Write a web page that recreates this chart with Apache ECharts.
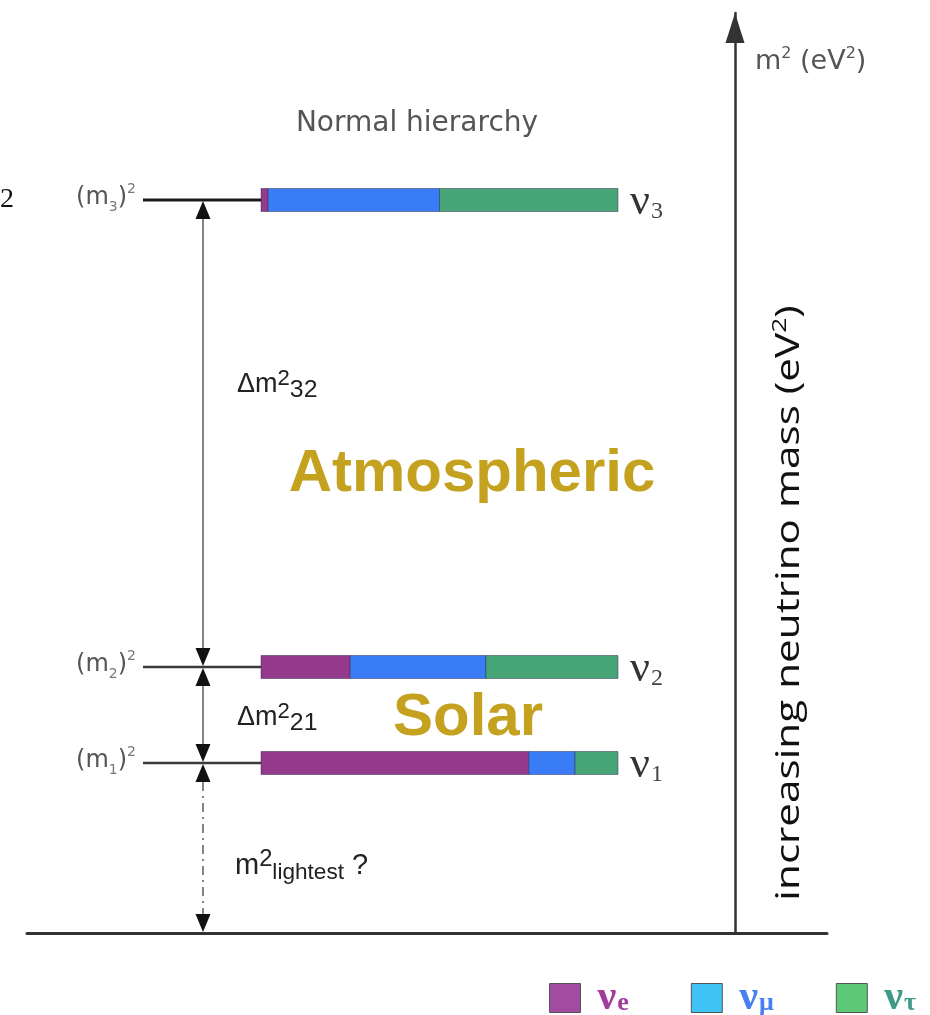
<!DOCTYPE html>
<html><head><meta charset="utf-8">
<script src="https://cdn.jsdelivr.net/npm/echarts@6/dist/echarts.min.js"></script>
<style>html,body{margin:0;padding:0;background:#fff}#c{width:930px;height:1015px}</style>
</head><body><div id="c"></div>
<script>
// ---------------- data ----------------
const states   = ['1', '2', '3'];          // mass eigenstates ν1, ν2, ν3
const massSq   = [17.0, 26.6, 73.3];       // relative (m_i)^2 levels, axis units
const flavors  = ['νe', 'νμ', 'ντ'];
const fracE    = [0.75, 0.25, 0.02];       // νe content of ν1, ν2, ν3
const fracMu   = [0.13, 0.38, 0.48];       // νμ content
const fracTau  = [0.12, 0.37, 0.50];       // ντ content

// ---------------- layout / style constants ----------------
const AX0 = 735;                // pixel column of the vertical m² axis (x value 0)
const BAR_X0 = 261 - AX0, BAR_W = 357, BAR_H = 23;
const LINE_X0 = 143 - AX0;
const ARROW_X = 203 - AX0;
const barColors = ['#943a8c', '#3a7cf6', '#48a578'];
const legendColors = ['#a34ba1', '#3fc3f6', '#5dc978'];
const legendText = ['#a03c9c', '#4a7ff2', '#3f9a88'];
const GOLD = '#c4a21f';

const fracs = [fracE, fracMu, fracTau];
function flavorData(k) {
  return states.map((s, i) => {
    let start = 0;
    for (let j = 0; j < k; j++) start += fracs[j][i];
    return [massSq[i], start, fracs[k][i]];
  });
}

const chart = echarts.init(document.getElementById('c'), null, {renderer: 'canvas'});

const flavorSeries = flavors.map((f, k) => ({
  name: f,
  type: 'custom',
  coordinateSystem: 'cartesian2d',
  itemStyle: {color: barColors[k]},
  encode: {x: 1, y: 0},
  data: flavorData(k),
  silent: true,
  z: 5,
  renderItem: function (params, api) {
    const y = api.value(0), s = api.value(1), w = api.value(2);
    const a = api.coord([BAR_X0 + s * BAR_W, y]);
    const b = api.coord([BAR_X0 + (s + w) * BAR_W, y]);
    return {
      type: 'rect',
      shape: {x: a[0], y: a[1] - BAR_H / 2, width: b[0] - a[0], height: BAR_H},
      style: {fill: barColors[k], stroke: 'rgba(40,30,70,0.45)', lineWidth: 1}
    };
  }
}));

const levelSeries = {
  name: 'levels',
  type: 'custom',
  coordinateSystem: 'cartesian2d',
  encode: {x: 1, y: 0},
  data: massSq.map((m, i) => [m, i]),
  silent: true,
  z: 3,
  renderItem: function (params, api) {
    const y = api.value(0), i = api.value(1);
    const a = api.coord([LINE_X0, y]);
    const b = api.coord([BAR_X0, y]);
    const top = i === states.length - 1;
    return {
      type: 'group',
      children: [
        {type: 'line', shape: {x1: a[0], y1: a[1], x2: b[0], y2: b[1]},
         style: {stroke: top ? '#1a1a1a' : '#3a3a3a', lineWidth: top ? 3 : 2.5}},
        {type: 'text', x: a[0] - 7, y: a[1] - 2,
         style: {text: '{n|(m}{s|' + states[i] + '}{n|)}{p|2}', align: 'right', verticalAlign: 'middle',
           rich: {
             n: {fontSize: 24, fontFamily: 'DejaVu Sans', fill: '#555', lineHeight: 32},
             s: {fontSize: 14, fontFamily: 'DejaVu Sans', fill: '#777', lineHeight: 14, verticalAlign: 'bottom'},
             p: {fontSize: 14, fontFamily: 'DejaVu Sans', fill: '#777', lineHeight: 14, verticalAlign: 'top'}
           }}},
        {type: 'text', x: api.coord([BAR_X0 + BAR_W, y])[0] + 12, y: a[1] + 2,
         style: {text: '{v|ν}{s|' + states[i] + '}', align: 'left', verticalAlign: 'middle',
           rich: {
             v: {fontSize: 44, fontFamily: 'Liberation Serif', fill: '#333', lineHeight: 44},
             s: {fontSize: 24, fontFamily: 'Liberation Serif', fill: '#444', lineHeight: 24, verticalAlign: 'bottom', padding: [0, 0, 0, 1]}
           }}}
      ]
    };
  }
};

const bounds = [0].concat(massSq);
const arrowSeries = {
  name: 'gaps',
  type: 'custom',
  coordinateSystem: 'cartesian2d',
  encode: {x: 2, y: 0},
  data: massSq.map((m, i) => [bounds[i], bounds[i + 1], i === 0 ? 1 : 0]),
  silent: true,
  z: 4,
  renderItem: function (params, api) {
    const lo = api.coord([ARROW_X, api.value(0)]);
    const hi = api.coord([ARROW_X, api.value(1)]);
    const dashed = api.value(2) === 1;
    const x = lo[0], hw = 7.5, h = 19;
    return {
      type: 'group',
      children: [
        {type: 'line', shape: {x1: x, y1: hi[1] + h, x2: x, y2: lo[1] - h},
         style: {stroke: '#666', lineWidth: 1.6, lineDash: dashed ? [9, 5, 2, 5] : null}},
        {type: 'polygon', shape: {points: [[x, hi[1] + 1], [x - hw, hi[1] + h], [x + hw, hi[1] + h]]},
         style: {fill: '#111'}},
        {type: 'polygon', shape: {points: [[x, lo[1] - 1], [x - hw, lo[1] - h], [x + hw, lo[1] - h]]},
         style: {fill: '#111'}}
      ]
    };
  }
};

const subRich = (size, color, sub) => ({
  n: {fontSize: size, fontFamily: 'Liberation Sans', fill: color, lineHeight: size + 8},
  p: {fontSize: size * 0.82, fontFamily: 'Liberation Sans', fill: color, lineHeight: size * 0.82, verticalAlign: 'top'},
  s: {fontSize: size * sub, fontFamily: 'Liberation Sans', fill: color, lineHeight: size * sub, verticalAlign: 'bottom', padding: [9, 0, 0, 0]}
});

const option = {
  animation: false,
  backgroundColor: '#ffffff',
  grid: {left: 27, right: 103, top: 13, bottom: 82, containLabel: false},
  xAxis: {
    type: 'value', min: -708, max: 92,
    axisLine: {show: true, onZero: true, lineStyle: {color: '#333', width: 3}},
    axisTick: {show: false}, axisLabel: {show: false}, splitLine: {show: false}
  },
  yAxis: {
    type: 'value', min: 0, max: 92,
    axisLine: {show: true, onZero: true, lineStyle: {color: '#333', width: 2.5},
      symbol: ['none', 'triangle'], symbolSize: [19, 30], symbolOffset: [0, -15]},
    axisTick: {show: false}, axisLabel: {show: false}, splitLine: {show: false}
  },
  legend: {
    left: 549, top: 977, padding: 0, itemWidth: 31, itemHeight: 29, itemGap: 62, icon: 'rect',
    selectedMode: false,
    data: flavors.map((f, k) => ({name: f, itemStyle: {color: legendColors[k], borderColor: '#555', borderWidth: 1}})),
    formatter: function (name) {
      const k = flavors.indexOf(name);
      return '{v' + k + '|ν}{s' + k + '|' + name.slice(1) + '}';
    },
    textStyle: {
      rich: (function () {
        const r = {};
        for (let k = 0; k < 3; k++) {
          r['v' + k] = {fontSize: 42, fontFamily: 'Liberation Serif', fontWeight: 'bold', color: legendText[k], lineHeight: 36, padding: [0, 0, 0, 12]};
          r['s' + k] = {fontSize: 26, fontFamily: 'Liberation Serif', fontWeight: 'bold', color: legendText[k], lineHeight: 26, verticalAlign: 'bottom', padding: [12, 0, 0, 1]};
        }
        return r;
      })()
    }
  },
  graphic: [
    {type: 'text', left: 0, top: 186, style: {text: '2', font: '28px "Liberation Serif"', fill: '#111'}},
    {type: 'text', x: 417, y: 124, style: {text: 'Normal hierarchy', font: '28px "DejaVu Sans"', fill: '#555', align: 'center', verticalAlign: 'middle'}},
    {type: 'text', x: 237, y: 385, style: {text: '{n|Δm}{p|2}{s|32}', rich: subRich(27, '#222', 0.92), verticalAlign: 'middle'}},
    {type: 'text', x: 237, y: 718, style: {text: '{n|Δm}{p|2}{s|21}', rich: subRich(27, '#222', 0.92), verticalAlign: 'middle'}},
    {type: 'text', x: 235, y: 866, style: {text: '{n|m}{p|2}{s|lightest}{n| ?}', rich: subRich(29, '#222', 0.78), verticalAlign: 'middle'}},
    {type: 'text', x: 472, y: 474, style: {text: 'Atmospheric', font: 'bold 60px "Liberation Sans"', fill: GOLD, align: 'center', verticalAlign: 'middle'}},
    {type: 'text', x: 468, y: 718, style: {text: 'Solar', font: 'bold 60px "Liberation Sans"', fill: GOLD, align: 'center', verticalAlign: 'middle'}},
    {type: 'text', x: 755, y: 62, style: {text: '{n|m}{p|2}{n| (eV}{p|2}{n|)}', verticalAlign: 'middle',
      rich: {n: {fontSize: 27, fontFamily: 'DejaVu Sans', fill: '#555', lineHeight: 32},
             p: {fontSize: 16, fontFamily: 'DejaVu Sans', fill: '#555', lineHeight: 16, verticalAlign: 'top'}}}},
    {type: 'text', x: 790, y: 603, rotation: Math.PI / 2, scaleX: 1.32,
      style: {text: '{n|increasing neutrino mass (eV}{p|2}{n|)}', align: 'center', verticalAlign: 'middle',
        rich: {n: {fontSize: 32, fontFamily: 'Open Sans', fill: '#111', lineHeight: 40},
               p: {fontSize: 20, fontFamily: 'Open Sans', fill: '#111', lineHeight: 20, verticalAlign: 'top'}}}}
  ],
  series: flavorSeries.concat([levelSeries, arrowSeries])
};
chart.setOption(option);
</script>
</body></html>
